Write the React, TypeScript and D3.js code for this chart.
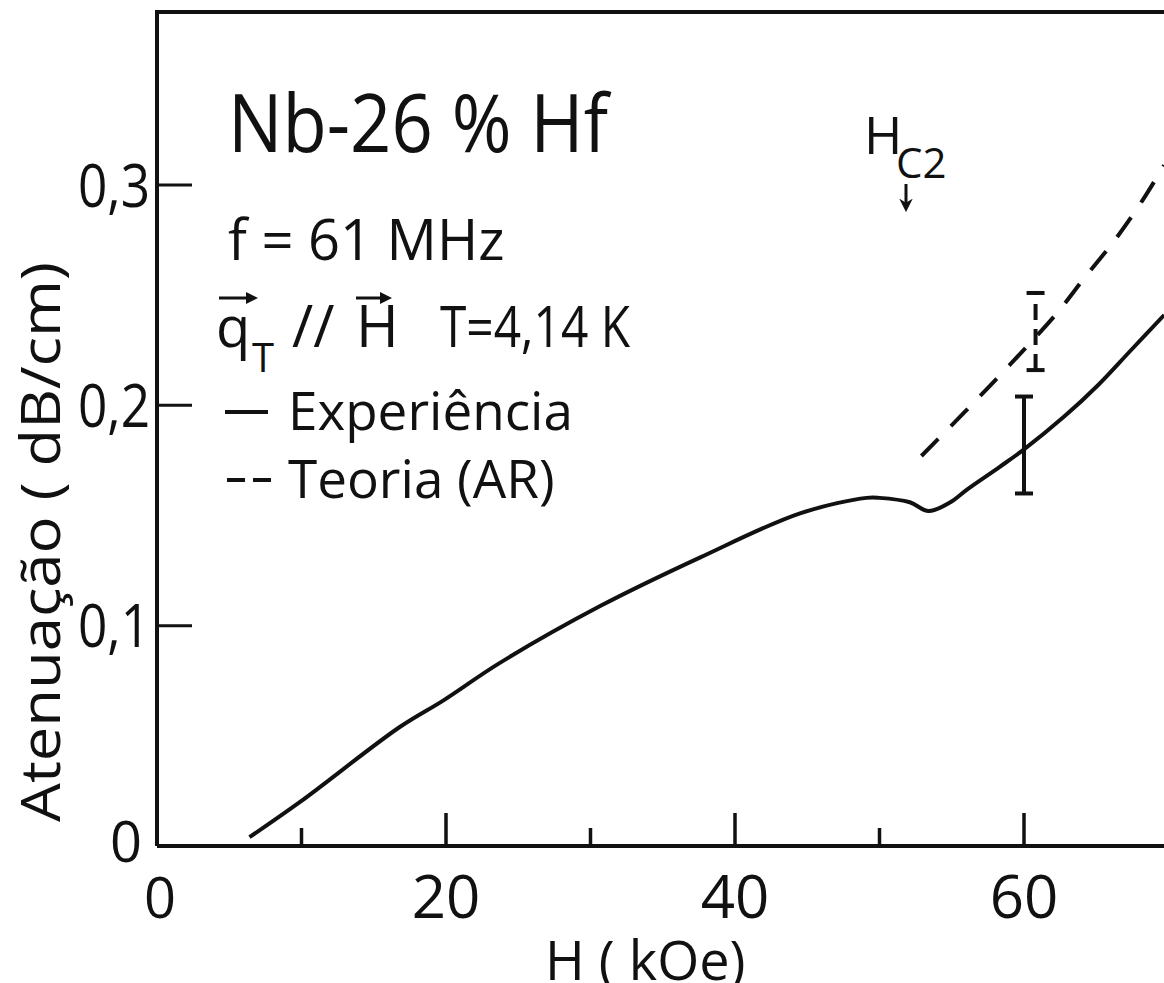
import React from 'react';
import * as d3 from 'd3';

// curva experimental (linha cheia)
const expH = [6.4, 9.9, 16.8, 19.8, 23.7, 30.7, 37.6, 44.5, 49.1, 50.0, 52.1, 53.4, 54.9, 56.1, 58.3, 60.0, 62.8, 65.1, 67.4, 69.7];
const expA = [0.004, 0.020, 0.054, 0.066, 0.083, 0.109, 0.131, 0.151, 0.158, 0.158, 0.156, 0.152, 0.156, 0.162, 0.172, 0.180, 0.195, 0.209, 0.225, 0.241];

// teoria (AR), tracejada
const teoH = [52.9, 55.9, 58.1, 60.1, 62.3, 64.2, 66.4, 68.2, 69.7];
const teoA = [0.177, 0.197, 0.212, 0.226, 0.242, 0.258, 0.276, 0.293, 0.309];

// barras de erro
const errH = [60.0, 60.8];
const errLo = [0.160, 0.216];
const errHi = [0.204, 0.251];

const xMajor = [0, 20, 40, 60];
const xMinor = [10, 30, 50];
const xLabels = ['0', '20', '40', '60'];
const yTicks = [0, 0.1, 0.2, 0.3];
const yLabels = ['0', '0,1', '0,2', '0,3'];

const W = 1164;
const H = 983;
const font = "'Open Sans', 'DejaVu Sans', sans-serif";

export default function App() {
  const x = d3.scaleLinear().domain([0, 60]).range([157, 1024]);
  const y = d3.scaleLinear().domain([0, 0.3]).range([846, 185]);
  const xMax = x.invert(W);
  const yMax = y.invert(12);

  const line = d3.line<number>()
    .x((d, i) => x(expH[i]))
    .y(d => y(d))
    .curve(d3.curveCatmullRom.alpha(0.5));
  const teoLine = d3.line<number>()
    .x((d, i) => x(teoH[i]))
    .y(d => y(d))
    .curve(d3.curveCatmullRom.alpha(0.5));

  const ink = '#111';

  return (
    <svg width={W} height={H} style={{ position: 'absolute', left: 0, top: 0, background: '#fff' }}
      fontFamily={font} fill={ink}>
      <defs>
        <marker id="head" viewBox="0 0 10 10" refX="5" refY="5" markerWidth="4" markerHeight="4" orient="auto">
          <path d="M0,0 L10,5 L0,10 z" fill={ink} />
        </marker>
        <marker id="headBig" viewBox="0 0 10 10" refX="4" refY="5" markerWidth="4.5" markerHeight="4.5" orient="auto">
          <path d="M0,0 L10,5 L0,10 L3,5 z" fill={ink} />
        </marker>
      </defs>

      {/* moldura */}
      <path d={`M${x(0)},${y(0)} V${y(yMax)} H${x(xMax)}`} fill="none" stroke={ink} strokeWidth={4} />
      <line x1={x(0)} x2={x(xMax)} y1={y(0)} y2={y(0)} stroke={ink} strokeWidth={4} />

      {/* ticks y */}
      {yTicks.slice(1).map(t => (
        <line key={t} x1={x(0)} x2={x(0) + 35} y1={y(t)} y2={y(t)} stroke={ink} strokeWidth={3} />
      ))}
      {yTicks.map((t, i) => (
        <text key={t} x={i === 0 ? 142 : 150} y={y(t)} dy={i === 0 ? '0.28em' : '0.36em'} fontSize={i === 0 ? 56 : 60}
          textAnchor="end" textLength={i === 0 ? undefined : 72} lengthAdjust="spacingAndGlyphs">{yLabels[i]}</text>
      ))}

      {/* ticks x */}
      {xMajor.slice(1).map(t => (
        <line key={t} x1={x(t)} x2={x(t)} y1={y(0)} y2={y(0) - 33} stroke={ink} strokeWidth={3.5} />
      ))}
      {xMinor.map(t => (
        <line key={t} x1={x(t)} x2={x(t)} y1={y(0)} y2={y(0) - 18} stroke={ink} strokeWidth={3.5} />
      ))}
      {xMajor.map((t, i) => (
        <text key={t} x={x(t) + (i === 0 ? 3 : 0)} y={918} fontSize={i === 0 ? 56 : 60} textAnchor="middle">{xLabels[i]}</text>
      ))}

      {/* titulos dos eixos */}
      <text x={545} y={980} fontSize={54}>H ( kOe)</text>
      <text transform={`translate(60,${542}) rotate(-90)`} fontSize={54} textAnchor="middle"
        textLength={560} lengthAdjust="spacingAndGlyphs">Atenuação ( dB/cm)</text>

      {/* curvas */}
      <path d={line(expA) || ''} fill="none" stroke={ink} strokeWidth={4} />
      <path d={teoLine(teoA) || ''} fill="none" stroke={ink} strokeWidth={4} strokeDasharray="24 18" />

      {/* barras de erro */}
      {errH.map((h, i) => (
        <g key={h} stroke={ink} strokeWidth={4}>
          <line x1={x(h)} x2={x(h)} y1={y(errLo[i])} y2={y(errHi[i])} strokeDasharray={i === 1 ? '16 9' : undefined} />
          <line x1={x(h) - 9} x2={x(h) + 9} y1={y(errLo[i])} y2={y(errLo[i])} />
          <line x1={x(h) - 9} x2={x(h) + 9} y1={y(errHi[i])} y2={y(errHi[i])} />
        </g>
      ))}

      {/* anotacoes */}
      <text x={228} y={152} fontSize={80} textLength={380} lengthAdjust="spacingAndGlyphs">Nb-26 % Hf</text>
      <text x={228} y={260} fontSize={56}>f = 61 MHz</text>

      <text x={216} y={347} fontSize={56}>q</text>
      <line x1={219} x2={252} y1={298} y2={298} stroke={ink} strokeWidth={3} markerEnd="url(#head)" />
      <text x={252} y={372} fontSize={40}>T</text>
      <text x={292} y={347} fontSize={58}>//</text>
      <text x={356} y={347} fontSize={58}>H</text>
      <line x1={356} x2={386} y1={298} y2={298} stroke={ink} strokeWidth={3} markerEnd="url(#head)" />
      <text x={440} y={347} fontSize={56} textLength={190} lengthAdjust="spacingAndGlyphs">T=4,14 K</text>

      <line x1={225} x2={268} y1={412} y2={412} stroke={ink} strokeWidth={4} />
      <text x={288} y={430} fontSize={53}>Experiência</text>
      <line x1={227} x2={272} y1={480} y2={480} stroke={ink} strokeWidth={4} strokeDasharray="18 8" />
      <text x={288} y={498} fontSize={53}>Teoria (AR)</text>

      <text x={864} y={154} fontSize={52}>H</text>
      <text x={896} y={178} fontSize={42}>C2</text>
      <line x1={906} x2={906} y1={184} y2={204} stroke={ink} strokeWidth={3} markerEnd="url(#headBig)" />
    </svg>
  );
}
